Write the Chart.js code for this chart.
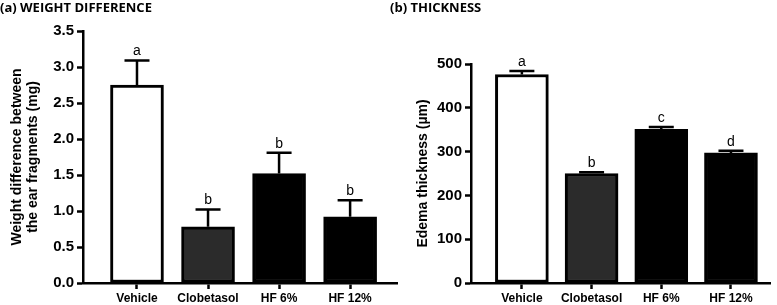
<!DOCTYPE html>
<html>
<head>
<meta charset="utf-8">
<script src="https://cdn.jsdelivr.net/npm/chart.js@4"></script>
<style>
  body { margin: 0; background: #fff; }
  #wrap { position: relative; width: 777px; height: 305px; overflow: hidden; }
  canvas { position: absolute; top: 0; }
  #weight { left: 0; }
  #thick { left: 390px; }
</style>
</head>
<body>
<div id="wrap">
  <canvas id="weight" width="400" height="305"></canvas>
  <canvas id="thick" width="387" height="305"></canvas>
</div>
<script>
const categories = ['Vehicle', 'Clobetasol', 'HF 6%', 'HF 12%']
const barColors = ['#ffffff', '#2b2b2b', '#000000', '#000000']

// (a) weight difference, mg (mean and SEM)
const weightMean = [2.75, 0.78, 1.52, 0.92]
const weightSem = [0.34, 0.24, 0.29, 0.23]
const weightLetters = ['a', 'b', 'b', 'b']

// (b) edema thickness, µm
const thickMean = [476, 250, 351, 297]
const thickSem = [8, 3, 5, 5]
const thickLetters = ['a', 'b', 'c', 'd']

const AXIS = 'Liberation Sans, Arial, sans-serif'

// error bars (upper only) and the significance letters
const errorPlugin = {
  id: 'errs',
  afterDatasetsDraw(chart, args, opts) {
    const ctx = chart.ctx
    const xs = chart.scales.x, ys = chart.scales.y
    ctx.save()
    ctx.strokeStyle = '#000'
    ctx.lineWidth = 2.5
    opts.mean.forEach((m, i) => {
      const x = xs.getPixelForValue(i)
      const y0 = ys.getPixelForValue(m)
      const y1 = ys.getPixelForValue(m + opts.sem[i])
      ctx.beginPath()
      ctx.moveTo(x, y0)
      ctx.lineTo(x, y1)
      ctx.moveTo(x - 12.5, y1)
      ctx.lineTo(x + 12.5, y1)
      ctx.stroke()
      ctx.fillStyle = '#000'
      ctx.font = '14px ' + AXIS
      ctx.textAlign = 'center'
      ctx.textBaseline = 'bottom'
      ctx.fillText(opts.letters[i], x, y1 - 2)
    })
    ctx.restore()
  }
}

function makeChart(id, cfg) {
  return new Chart(document.getElementById(id), {
    type: 'bar',
    data: {
      datasets: [{
        data: cfg.mean.map((v, i) => ({ x: i, y: v })),
        backgroundColor: barColors,
        borderColor: '#000',
        borderWidth: 3,
        borderSkipped: false,
        barThickness: 53
      }]
    },
    plugins: [errorPlugin],
    options: {
      responsive: false,
      animation: false,
      layout: { padding: { left: 0, right: cfg.padRight, bottom: 0 } },
      plugins: {
        legend: { display: false },
        tooltip: { enabled: false },
        title: {
          display: true,
          text: cfg.title,
          align: 'start',
          color: '#000',
          font: { family: 'Open Sans', size: 13, weight: 'bold', lineHeight: 1.2 },
          padding: { top: 0, bottom: cfg.titleGap }
        },
        errs: { mean: cfg.mean, sem: cfg.sem, letters: cfg.letters }
      },
      scales: {
        x: {
          type: 'linear',
          offset: false,
          min: cfg.xMin,
          max: cfg.xMax,
          afterBuildTicks: s => { s.ticks = categories.map((c, i) => ({ value: i })) },
          afterFit: s => { s.height = 22; s.paddingLeft = 0; s.paddingRight = 0 },
          ticks: {
            callback: v => categories[v],
            color: '#000',
            font: { family: AXIS, size: 12, weight: 'bold' },
            padding: 2,
            maxRotation: 0
          },
          grid: { offset: false, drawOnChartArea: false, color: '#000', tickLength: 6, tickWidth: 2.5 },
          border: { display: true, color: '#000', width: 2.5 }
        },
        y: {
          min: 0,
          max: cfg.yMax,
          afterFit: s => { s.width = cfg.axisX; s.paddingTop = 0; s.paddingBottom = 0 },
          ticks: {
            stepSize: cfg.step,
            callback: cfg.fmt,
            color: '#000',
            font: { family: AXIS, size: 15, weight: 'bold' },
            padding: 3
          },
          grid: { drawOnChartArea: false, color: '#000', tickLength: 6, tickWidth: 2.5 },
          border: { display: true, color: '#000', width: 2.5 },
          title: {
            display: true,
            text: cfg.yTitle,
            color: '#000',
            font: { family: AXIS, size: 14, weight: 'bold', lineHeight: 1.15 },
            padding: { top: cfg.yTitlePad, bottom: 0 }
          }
        }
      }
    }
  })
}

makeChart('weight', {
  title: '(a) WEIGHT DIFFERENCE',
  titleGap: 15.4,
  mean: weightMean, sem: weightSem, letters: weightLetters,
  yMax: 3.5, step: 0.5, fmt: v => v.toFixed(1),
  yTitle: ['Weight difference between', 'the ear fragments (mg)'],
  yTitlePad: 9,
  axisX: 83, padRight: 3,
  xMin: -0.76, xMax: 3.66
})

makeChart('thick', {
  title: '(b) THICKNESS',
  titleGap: 48.4,
  mean: thickMean, sem: thickSem, letters: thickLetters,
  yMax: 500, step: 100, fmt: v => v,
  yTitle: 'Edema thickness (µm)',
  yTitlePad: 25,
  axisX: 81, padRight: 7,
  xMin: -0.73, xMax: 3.56
})
</script>
</body>
</html>
